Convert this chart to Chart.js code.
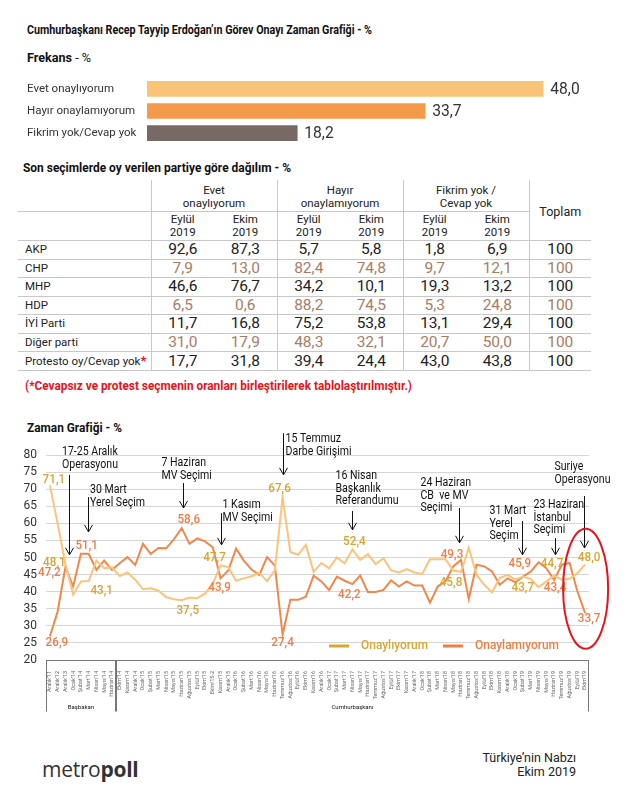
<!DOCTYPE html>
<html lang="tr">
<head>
<meta charset="utf-8">
<script src="https://cdn.jsdelivr.net/npm/chart.js@4.4.1/dist/chart.umd.min.js"></script>
<style>
  html, body { margin: 0; padding: 0; background: #fff; }
  body {
    width: 624px; height: 791px; position: relative; overflow: hidden;
    font-family: Roboto, "Noto Sans", sans-serif;
    color: #222;
  }
  .abs { position: absolute; white-space: nowrap; }
  .head { font-weight: bold; font-size: 13.5px; color: #111; transform-origin: left top; }
  #note { color: #e8141b; font-weight: bold; font-size: 13.5px; transform-origin: left top; }
  table { position: absolute; left: 18px; top: 180px; border-collapse: collapse; table-layout: fixed; }
  td, th { padding: 0; text-align: center; font-weight: normal; white-space: nowrap; }
  th { font-size: 11.5px; line-height: 13px; color: #222; }
  tr.h1 th { height: 29px; padding-top: 2px; }
  tr.h2 th { height: 28px; }
  tr.row td { height: 17.5px; line-height: 17px; font-size: 15.5px; border-bottom: 1px solid #c8c8c8; }
  tr.row td.lab { text-align: left; padding-left: 7px; font-size: 11.5px; }
  tr.alt td { color: #a97c64; }
  tr.alt td.lab { color: #222; }
  .bl { border-left: 1px solid #c8c8c8; }
  .bb { border-bottom: 1px solid #c8c8c8; }
  .star { color: #e8141b; font-weight: bold; font-size: 13px; }
  #logo { left: 42px; top: 755px; font-family: "Open Sans", sans-serif; font-size: 21px; color: #333; letter-spacing: -0.3px; }
  #logo b { font-weight: 700; }
  #src { right: 48px; top: 751px; text-align: right; font-size: 12.5px; line-height: 14px; color: #222; }
</style>
</head>
<body>
<div class="abs head" data-w="345" style="left:27px; top:21px;">Cumhurbaşkanı Recep Tayyip Erdoğan’ın Görev Onayı Zaman Grafiği - %</div>
<div class="abs head" data-w="64" style="left:27px; top:49px;">Frekans <span style="font-weight:normal">- %</span></div>
<canvas id="freq" class="abs" style="left:0; top:71px;" width="624" height="80"></canvas>

<div class="abs head" data-w="268" style="left:23px; top:159px;">Son seçimlerde oy verilen partiye göre dağılım - %</div>
<table id="tbl"></table>
<div id="note" class="abs" data-w="387" style="left:25px; top:377px;">(*Cevapsız ve protest seçmenin oranları birleştirilerek tablolaştırılmıştır.)</div>

<div class="abs head" data-w="95" style="left:27px; top:419px;">Zaman Grafiği - %</div>
<canvas id="time" class="abs" style="left:0; top:430px;" width="624" height="290"></canvas>

<div id="logo" class="abs">metro<b>poll</b></div>
<div id="src" class="abs">Türkiye’nin Nabzı<br>Ekim 2019</div>

<script>
const FONT = 'Roboto, "Noto Sans", sans-serif';

// Frekans
const freqLabels = ["Evet onaylıyorum", "Hayır onaylamıyorum", "Fikrim yok/Cevap yok"];
const freqValues = [48.0, 33.7, 18.2];
const freqColors = ["#f8c477", "#f49a4b", "#776a64"];

// Table: party breakdown
const parties = ["AKP", "CHP", "MHP", "HDP", "İYİ Parti", "Diğer parti", "Protesto oy/Cevap yok"];
const evetEylul   = [92.6, 7.9, 46.6, 6.5, 11.7, 31.0, 17.7];
const evetEkim    = [87.3, 13.0, 76.7, 0.6, 16.8, 17.9, 31.8];
const hayirEylul  = [5.7, 82.4, 34.2, 88.2, 75.2, 48.3, 39.4];
const hayirEkim   = [5.8, 74.8, 10.1, 74.5, 53.8, 32.1, 24.4];
const fikrimEylul = [1.8, 9.7, 19.3, 5.3, 13.1, 20.7, 43.0];
const fikrimEkim  = [6.9, 12.1, 13.2, 24.8, 29.4, 50.0, 43.8];
const toplam      = [100, 100, 100, 100, 100, 100, 100];

// Time series
const months = [
  "Aralık'11", "Aralık'12", "Aralık'13", "Ocak'14", "Şubat'14", "Mart'14", "Nisan'14", "Mayıs'14", "Haziran'14",
  "Ekim'14", "Kasım'14", "Aralık'14", "Ocak'15", "Şubat'15", "Mart'15", "Nisan'15", "Mayıs'15", "Haziran'15",
  "Ağustos'15", "Eylül'15", "Ekim'15", "Ekim'15-2", "Kasım'15", "Aralık'15",
  "Ocak'16", "Şubat'16", "Mart'16", "Nisan'16", "Mayıs'16", "Haziran'16", "Temmuz'16", "Ağustos'16", "Eylül'16", "Ekim'16", "Kasım'16", "Aralık'16",
  "Ocak'17", "Şubat'17", "Mart'17", "Nisan'17", "Mayıs'17", "Haziran'17", "Temmuz'17", "Ağustos'17", "Eylül'17", "Ekim'17", "Kasım'17", "Aralık'17",
  "Ocak'18", "Şubat'18", "Mart'18", "Nisan'18", "Mayıs'18", "Haziran'18", "Temmuz'18", "Ağustos'18", "Eylül'18", "Ekim'18", "Kasım'18", "Aralık'18",
  "Ocak'19", "Şubat'19", "Mart'19", "Nisan'19", "Mayıs'19", "Haziran'19", "Temmuz'19", "Ağustos'19", "Eylül'19", "Ekim'19"
];
const approve = [
  71.1, 60.0, 48.1, 39.1, 43.0, 43.1, 49.1, 46.9, 47.1,
  44.6, 45.6, 43.5, 40.7, 41.0, 40.3, 38.4, 37.8, 37.5,
  38.3, 38.1, 39.4, 42.3, 47.7, 47.2,
  43.2, 43.9, 44.5, 45.5, 43.1, 46.3, 67.6, 51.6, 50.8, 53.7, 45.8, 48.4,
  46.8, 50.0, 48.3, 52.4, 49.3, 51.0, 48.1, 49.8, 46.2, 45.6, 46.6, 45.6,
  45.2, 49.5, 49.5, 49.5, 46.2, 45.8, 52.9, 44.9, 42.0, 39.8, 44.0, 44.9,
  43.5, 44.4, 43.7, 41.3, 43.0, 44.7, 43.5, 43.8, 45.4, 48.0
];
const disapprove = [
  26.9, 34.2, 47.2, 41.5, 51.1, 51.1, 46.4, 49.1, 46.4,
  48.3, 50.1, 47.8, 54.0, 51.1, 52.8, 52.7, 55.4, 58.6,
  54.0, 55.6, 54.7, 53.0, 43.9, 46.2,
  52.6, 49.1, 46.5, 44.9, 50.1, 47.6, 27.4, 37.6, 37.6, 38.5, 44.7, 43.0,
  40.5, 44.4, 43.2, 42.2, 44.7, 39.9, 39.9, 40.5, 43.3, 41.5, 43.0, 41.8,
  41.8, 36.8, 41.5, 43.0, 47.4, 49.3, 37.9, 47.9, 47.4, 45.9, 42.0, 43.9,
  42.7, 44.4, 45.9, 48.6, 46.9, 43.4, 47.9, 48.4, 40.1, 33.7
];
const yTicks = [20, 25, 30, 35, 40, 45, 50, 55, 60, 65, 70, 75, 80];

// Which points get a value label: series 0 = approve, 1 = disapprove; offsets in px.
const pointLabels = [
  { s: 0, i: 0, dx: 4, dy: -6 },   { s: 1, i: 0, dx: 7, dy: 6 },
  { s: 0, i: 2, dx: -11, dy: -1 }, { s: 1, i: 2, dx: -16, dy: 6 },
  { s: 1, i: 5, dx: -2, dy: -8 },  { s: 0, i: 5, dx: 13, dy: 10 },
  { s: 1, i: 17, dx: 7, dy: -8 },  { s: 0, i: 17, dx: 6, dy: 11 },
  { s: 0, i: 22, dx: -6, dy: -8 }, { s: 1, i: 22, dx: -1, dy: 9 },
  { s: 0, i: 30, dx: -3, dy: -9 }, { s: 1, i: 30, dx: 0, dy: 8 },
  { s: 0, i: 39, dx: 2, dy: -8 },  { s: 1, i: 39, dx: -3, dy: 11 },
  { s: 1, i: 53, dx: -9, dy: -5 }, { s: 0, i: 53, dx: -10, dy: 11 },
  { s: 1, i: 62, dx: -11, dy: -8 },{ s: 0, i: 62, dx: -8, dy: 9 },
  { s: 0, i: 65, dx: -2, dy: -12 },{ s: 1, i: 65, dx: 1, dy: 8 },
  { s: 0, i: 69, dx: 4, dy: -7 },  { s: 1, i: 69, dx: 4, dy: 6 }
];

// Event callouts: arrow at category position `at`, from value `top` down to `bottom`.
const events = [
  { at: 2.5,  top: 74.2, bottom: 50.8, tx: -7.5, ty: -23, lines: ["17-25 Aralık", "Operasyonu"] },
  { at: 4.9,  top: 67.7, bottom: 57.5, tx: 1.5,  ty: -7,  lines: ["30 Mart", "Yerel Seçim"] },
  { at: 17.1, top: 71.8, bottom: 64.5, tx: -22,  ty: -20, lines: ["7 Haziran", "MV Seçimi"] },
  { at: 22,   top: 63.0, bottom: 53.7, tx: 1,    ty: -8,  lines: ["1 Kasım", "MV Seçimi"] },
  { at: 30,   top: 86.4, bottom: 74.2, tx: 2,    ty: 6,   lines: ["15 Temmuz", "Darbe Girişimi"] },
  { at: 38.9, top: 63.6, bottom: 58.1, tx: -17,  ty: -35, lines: ["16 Nisan", "Başkanlık", "Referandumu"] },
  { at: 52.8, top: 64.5, bottom: 54.3, tx: -39,  ty: -25, lines: ["24 Haziran", "CB  ve MV", "Seçimi"] },
  { at: 60.8, top: 60.7, bottom: 50.8, tx: -33,  ty: -10, lines: ["31 Mart", "Yerel", "Seçim"] },
  { at: 65.1, top: 55.7, bottom: 50.8, tx: -22,  ty: -33, lines: ["23 Haziran", "İstanbul", "Seçimi"] },
  { at: 68.9, top: 68.0, bottom: 52.8, tx: -30,  ty: -29, lines: ["Suriye", "Operasyonu"] }
];

// Period bands under the x axis.
const periods = [
  { name: "Başbakan", from: 0, to: 8 },
  { name: "Cumhurbaşkanı", from: 9, to: 69 }
];

const fmt = (v) => v.toFixed(1).replace(".", ",");

// squeeze the headings to the condensed widths of the reference
document.querySelectorAll("[data-w]").forEach((el) => {
  const w = el.getBoundingClientRect().width;
  el.style.transform = "scaleX(" + (el.dataset.w / w) + ")";
});

function narrowText(ctx, text, x, y, sx) {
  ctx.save();
  ctx.translate(x, y);
  ctx.scale(sx, 1);
  ctx.fillText(text, 0, 0);
  ctx.restore();
}

// ---- table ----
(function buildTable() {
  const t = document.getElementById("tbl");
  let html = '<colgroup><col style="width:133px">';
  for (let k = 0; k < 6; k++) html += '<col style="width:63px">';
  html += '<col style="width:62px"></colgroup>';
  html += '<tr class="h1"><th class="bb"></th>' +
    '<th colspan="2" class="bl bb">Evet<br>onaylıyorum</th>' +
    '<th colspan="2" class="bl bb">Hayır<br>onaylamıyorum</th>' +
    '<th colspan="2" class="bl bb">Fikrim yok /<br>Cevap yok</th>' +
    '<th rowspan="2" class="bl bb" style="font-size:12.5px">Toplam</th></tr>';
  html += '<tr class="h2"><th class="bb"></th>';
  for (let g = 0; g < 3; g++) {
    html += '<th class="bl bb">Eylül<br>2019</th><th class="bb">Ekim<br>2019</th>';
  }
  html += '</tr>';
  const cols = [evetEylul, evetEkim, hayirEylul, hayirEkim, fikrimEylul, fikrimEkim];
  parties.forEach((p, r) => {
    const star = r === parties.length - 1 ? '<span class="star">*</span>' : '';
    html += '<tr class="row' + (r % 2 === 1 ? ' alt' : '') + '"><td class="lab">' + p + star + '</td>';
    cols.forEach((c, k) => {
      html += '<td' + (k % 2 === 0 ? ' class="bl"' : '') + '>' + fmt(c[r]) + '</td>';
    });
    html += '<td class="bl">' + toplam[r] + '</td></tr>';
  });
  t.innerHTML = html;
})();

// ---- frekans bars ----
const freqValueLabels = {
  id: "freqValueLabels",
  afterDatasetsDraw(chart) {
    const ctx = chart.ctx;
    const meta = chart.getDatasetMeta(0);
    ctx.save();
    ctx.font = "17px " + FONT;
    ctx.fillStyle = "#333";
    ctx.textBaseline = "middle";
    meta.data.forEach((bar, i) => {
      narrowText(ctx, fmt(freqValues[i]), bar.x + 7, bar.y + 1, 0.92);
    });
    ctx.restore();
  }
};

new Chart(document.getElementById("freq"), {
  type: "bar",
  data: {
    labels: freqLabels,
    datasets: [{ data: freqValues, backgroundColor: freqColors, barThickness: 15 }]
  },
  options: {
    indexAxis: "y",
    responsive: false,
    animation: false,
    layout: { padding: { left: 27, right: 23, top: 0, bottom: 0 } },
    plugins: { legend: { display: false }, tooltip: { enabled: false } },
    scales: {
      x: { display: false, min: 0, max: 55 },
      y: {
        grid: { display: false },
        border: { display: false },
        ticks: { crossAlign: "far", color: "#333", padding: 0, font: { size: 11.5, family: FONT } },
        afterFit(s) { s.width = 120; }
      }
    }
  },
  plugins: [freqValueLabels]
});

// ---- time chart ----
const APPROVE_LINE = "#fcc47b", DISAPPROVE_LINE = "#f0884c";
const APPROVE_TEXT = "#d9a633", DISAPPROVE_TEXT = "#f07d45";

const timeOverlay = {
  id: "timeOverlay",
  afterDatasetsDraw(chart) {
    const ctx = chart.ctx;
    const x = chart.scales.x, y = chart.scales.y;
    const area = chart.chartArea;
    const series = [approve, disapprove];
    const textCol = [APPROVE_TEXT, DISAPPROVE_TEXT];
    const step = x.getPixelForValue(1) - x.getPixelForValue(0);
    const px = (pos) => x.getPixelForValue(0) + pos * step;
    ctx.save();

    // value labels
    ctx.font = "500 13px " + FONT;
    ctx.textAlign = "center";
    ctx.textBaseline = "middle";
    pointLabels.forEach((l) => {
      const v = series[l.s][l.i];
      ctx.fillStyle = textCol[l.s];
      narrowText(ctx, fmt(v), px(l.i) + l.dx, y.getPixelForValue(v) + l.dy, 0.9);
    });

    // event callouts
    ctx.strokeStyle = "#111";
    ctx.fillStyle = "#111";
    ctx.lineWidth = 1;
    ctx.font = "12px " + FONT;
    ctx.textAlign = "left";
    events.forEach((e) => {
      const ax = Math.round(px(e.at)) + 0.5;
      const y0 = y.getPixelForValue(e.top), y1 = y.getPixelForValue(e.bottom);
      ctx.beginPath();
      ctx.moveTo(ax, y0);
      ctx.lineTo(ax, y1);
      ctx.moveTo(ax - 4, y1 - 7);
      ctx.lineTo(ax, y1);
      ctx.lineTo(ax + 4, y1 - 7);
      ctx.stroke();
      e.lines.forEach((t, k) => narrowText(ctx, t, ax + e.tx, y0 + e.ty + k * 12.7, 0.88));
    });

    // red ellipse around the latest reading
    const last = months.length - 1;
    const cy = (y.getPixelForValue(approve[last] + 6) + y.getPixelForValue(disapprove[last] - 6)) / 2;
    ctx.strokeStyle = "#e8141b";
    ctx.lineWidth = 2;
    ctx.beginPath();
    ctx.ellipse(px(last) + 0.5, cy, 22.5, 60, 0, 0, Math.PI * 2);
    ctx.stroke();

    // legend
    const ly = y.getPixelForValue(24.1);
    [[APPROVE_TEXT, "Onaylıyorum", 329], [DISAPPROVE_TEXT, "Onaylamıyorum", 443]].forEach(([c, t, lx]) => {
      ctx.strokeStyle = c;
      ctx.lineWidth = 3;
      ctx.beginPath();
      ctx.moveTo(lx, ly);
      ctx.lineTo(lx + 20, ly);
      ctx.stroke();
      ctx.fillStyle = c;
      ctx.font = "500 13px " + FONT;
      narrowText(ctx, t, lx + 32, ly, 0.92);
    });

    // period box under the axis
    ctx.strokeStyle = "#777";
    ctx.lineWidth = 1;
    const top = Math.round(area.bottom) + 0.5, bot = top + 51;
    ctx.beginPath();
    ctx.moveTo(area.left, top);
    ctx.lineTo(area.right, top);
    ctx.stroke();
    ctx.font = "6px " + FONT;
    ctx.fillStyle = "#111";
    ctx.textAlign = "center";
    periods.forEach((p, k) => {
      const l = k === 0 ? area.left : (px(p.from) + px(p.from - 1)) / 2;
      const r = k === periods.length - 1 ? area.right : (px(p.to) + px(p.to + 1)) / 2;
      ctx.beginPath();
      ctx.moveTo(Math.round(l) + 0.5, top);
      ctx.lineTo(Math.round(l) + 0.5, bot);
      ctx.moveTo(Math.round(r) - 0.5, top);
      ctx.lineTo(Math.round(r) - 0.5, bot);
      ctx.stroke();
      ctx.fillText(p.name, (l + r) / 2, bot - 4);
    });
    ctx.restore();
  }
};

new Chart(document.getElementById("time"), {
  type: "line",
  data: {
    labels: months,
    datasets: [
      { label: "Onaylıyorum", data: approve, borderColor: APPROVE_LINE, borderWidth: 2, pointRadius: 0, tension: 0 },
      { label: "Onaylamıyorum", data: disapprove, borderColor: DISAPPROVE_LINE, borderWidth: 2, pointRadius: 0, tension: 0 }
    ]
  },
  options: {
    responsive: false,
    animation: false,
    layout: { padding: { left: 0, right: 35, top: 25, bottom: 0 } },
    plugins: { legend: { display: false }, tooltip: { enabled: false } },
    scales: {
      x: {
        offset: true,
        grid: { display: false },
        border: { display: false },
        ticks: { autoSkip: false, minRotation: 90, maxRotation: 90, padding: 3, color: "#666", font: { size: 5.5, family: FONT } },
        afterFit(s) { s.height = 60; }
      },
      y: {
        min: yTicks[0],
        max: yTicks[yTicks.length - 1],
        afterBuildTicks(s) { s.ticks = yTicks.map((v) => ({ value: v })); },
        grid: { color: "#d6d6d6", drawTicks: false },
        border: { display: false },
        ticks: { autoSkip: false, padding: 9, color: "#333", font: { size: 12, family: FONT } },
        afterFit(s) { s.width = 46; }
      }
    }
  },
  plugins: [timeOverlay]
});
</script>
</body>
</html>
